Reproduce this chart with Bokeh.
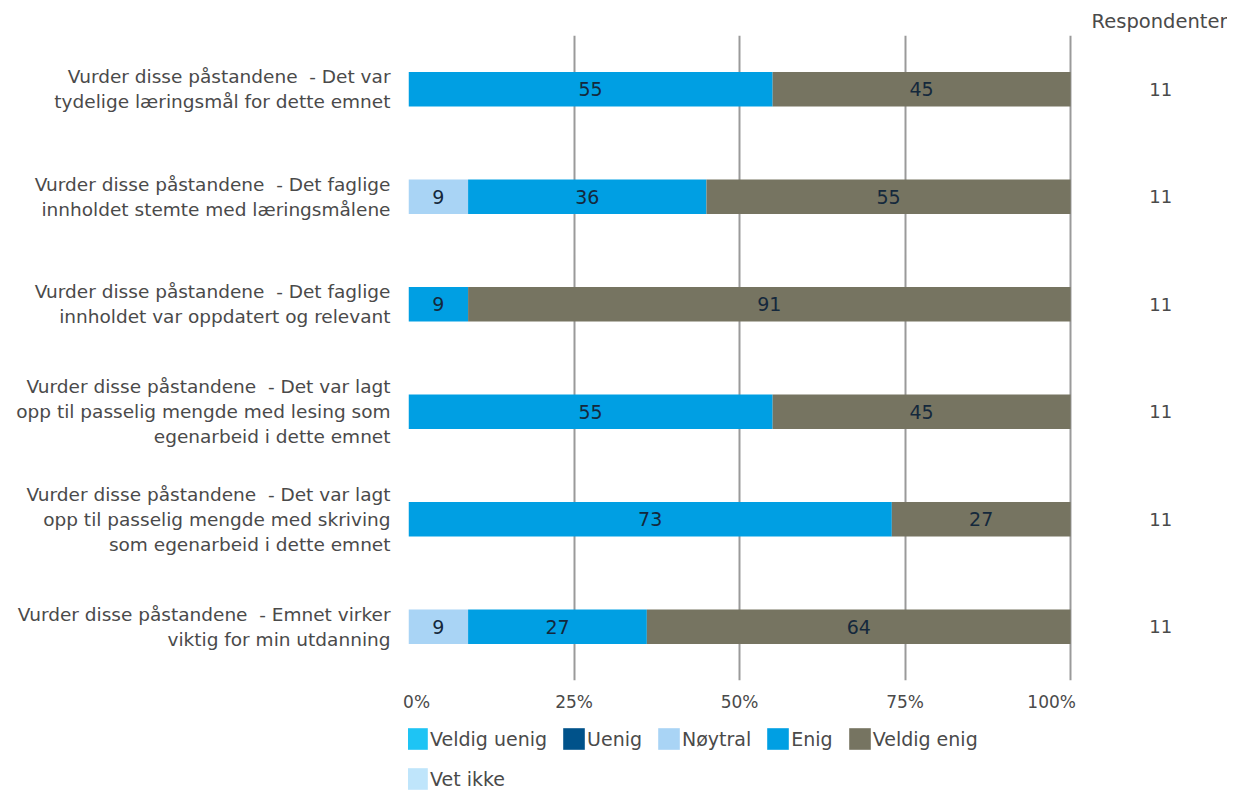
from bokeh.plotting import figure
from bokeh.layouts import column
from bokeh.models import (ColumnDataSource, FactorRange, Range1d, Legend, LegendItem,
                          FixedTicker, CustomJSTickFormatter)
from bokeh.core.properties import value
from bokeh.embed import file_html
from bokeh.resources import INLINE

SP = "\u00a0 "
categories = [
    f"Vurder disse påstandene{SP}- Det var\ntydelige læringsmål for dette emnet",
    f"Vurder disse påstandene{SP}- Det faglige\ninnholdet stemte med læringsmålene",
    f"Vurder disse påstandene{SP}- Det faglige\ninnholdet var oppdatert og relevant",
    f"Vurder disse påstandene{SP}- Det var lagt\nopp til passelig mengde med lesing som\negenarbeid i dette emnet",
    f"Vurder disse påstandene{SP}- Det var lagt\nopp til passelig mengde med skriving\nsom egenarbeid i dette emnet",
    f"Vurder disse påstandene{SP}- Emnet virker\nviktig for min utdanning",
]
series = ["Veldig uenig", "Uenig", "Nøytral", "Enig", "Veldig enig", "Vet ikke"]
veldig_uenig = [0, 0, 0, 0, 0, 0]
uenig = [0, 0, 0, 0, 0, 0]
noytral = [0, 9, 0, 0, 0, 9]
enig = [55, 36, 9, 55, 73, 27]
veldig_enig = [45, 55, 91, 45, 27, 64]
vet_ikke = [0, 0, 0, 0, 0, 0]
respondenter = [11, 11, 11, 11, 11, 11]
x_ticks = [0, 25, 50, 75, 100]
colors = ["#1EC4F4", "#00528A", "#A9D4F5", "#009FE3", "#767461", "#BFE5FB"]

FONT = "DejaVu Sans"
TXT = "#4a4a4a"

values = [veldig_uenig, uenig, noytral, enig, veldig_enig, vet_ikke]
data = {"cat": categories}
for s, v in zip(series, values):
    data[s] = v
src = ColumnDataSource(data)

p = figure(width=1227, height=725, output_backend="svg", toolbar_location=None,
           y_range=FactorRange(factors=list(reversed(categories))),
           x_range=Range1d(0, 123.7),
           title="Respondenter",
           min_border_left=408, min_border_right=0, min_border_top=35, min_border_bottom=45)
p.title.align = "right"
p.title.text_font = FONT
p.title.text_font_style = "normal"
p.title.text_font_size = "19.5px"
p.title.text_color = TXT
p.title.standoff = 5

p.outline_line_color = None
renderers = p.hbar_stack(series, y="cat", height=0.32, color=colors, line_color=None, source=src)

# value labels
lx, ly, lt = [], [], []
for i, cat in enumerate(categories):
    start = 0
    for v in values:
        val = v[i]
        if val > 0:
            lx.append(start + val / 2)
            ly.append(cat)
            lt.append(str(val))
        start += val
p.text(x=lx, y=ly, text=lt, text_align="center", text_baseline="middle",
       text_font=value(FONT), text_font_size="19px", text_color="#14283c")

# respondent counts
p.text(x=[113.6] * len(categories), y=categories, text=[str(r) for r in respondenter],
       text_align="center", text_baseline="middle",
       text_font=value(FONT), text_font_size="18px", text_color=TXT)

p.ygrid.grid_line_color = None
p.xgrid.ticker = FixedTicker(ticks=x_ticks)
p.xgrid.grid_line_color = "#9a9a9a"
p.xgrid.grid_line_width = 2
p.xaxis.ticker = FixedTicker(ticks=x_ticks)
# end labels are kept inside the plot width, as in the original
p.xaxis.formatter = CustomJSTickFormatter(code="""
const s = tick + '%';
if (tick == 0) return '\\u00a0\\u00a0\\u00a0' + s;
if (tick == 100) return s + '\\u00a0\\u00a0\\u00a0\\u00a0\\u00a0\\u00a0\\u00a0';
return s;
""")
p.xaxis.axis_line_color = None
p.xaxis.major_tick_line_color = None
p.xaxis.minor_tick_line_color = None
p.xaxis.major_label_text_font = FONT
p.xaxis.major_label_text_font_size = "17px"
p.xaxis.major_label_text_color = TXT
p.xaxis.major_label_standoff = 5

p.yaxis.axis_line_color = None
p.yaxis.major_tick_line_color = None
p.yaxis.minor_tick_line_color = None
p.yaxis.major_label_text_font = FONT
p.yaxis.major_label_text_font_size = "18.5px"
p.yaxis.major_label_text_color = TXT
p.yaxis.major_label_standoff = 12

# legend in a separate strip below the chart (proxy glyphs lie outside the strip's range)
q = figure(width=1227, height=66, output_backend="svg", toolbar_location=None,
           x_axis_location=None, y_axis_location=None,
           x_range=Range1d(0, 1), y_range=Range1d(0, 1),
           min_border_left=0, min_border_right=0, min_border_top=0, min_border_bottom=0)
q.outline_line_color = None
q.grid.grid_line_color = None
proxies = [q.hbar(y=[-5], left=[-5], right=[-4], height=0.5, color=c, line_color=None)
           for c in colors]
leg = Legend(items=[LegendItem(label=s, renderers=[r]) for s, r in zip(series, proxies)],
             orientation="horizontal", ncols=5, location=(-5, -1))
leg.background_fill_alpha = 0
leg.border_line_color = None
leg.label_text_font = FONT
leg.label_text_font_size = "19px"
leg.label_text_color = TXT
leg.glyph_width = 27
leg.glyph_height = 27
leg.label_height = 27
leg.label_standoff = 0
leg.spacing = 13
leg.padding = 0
leg.margin = 0
leg.click_policy = "none"
q.add_layout(leg)

open("out.html", "w").write(file_html(column(p, q, spacing=0), INLINE))
